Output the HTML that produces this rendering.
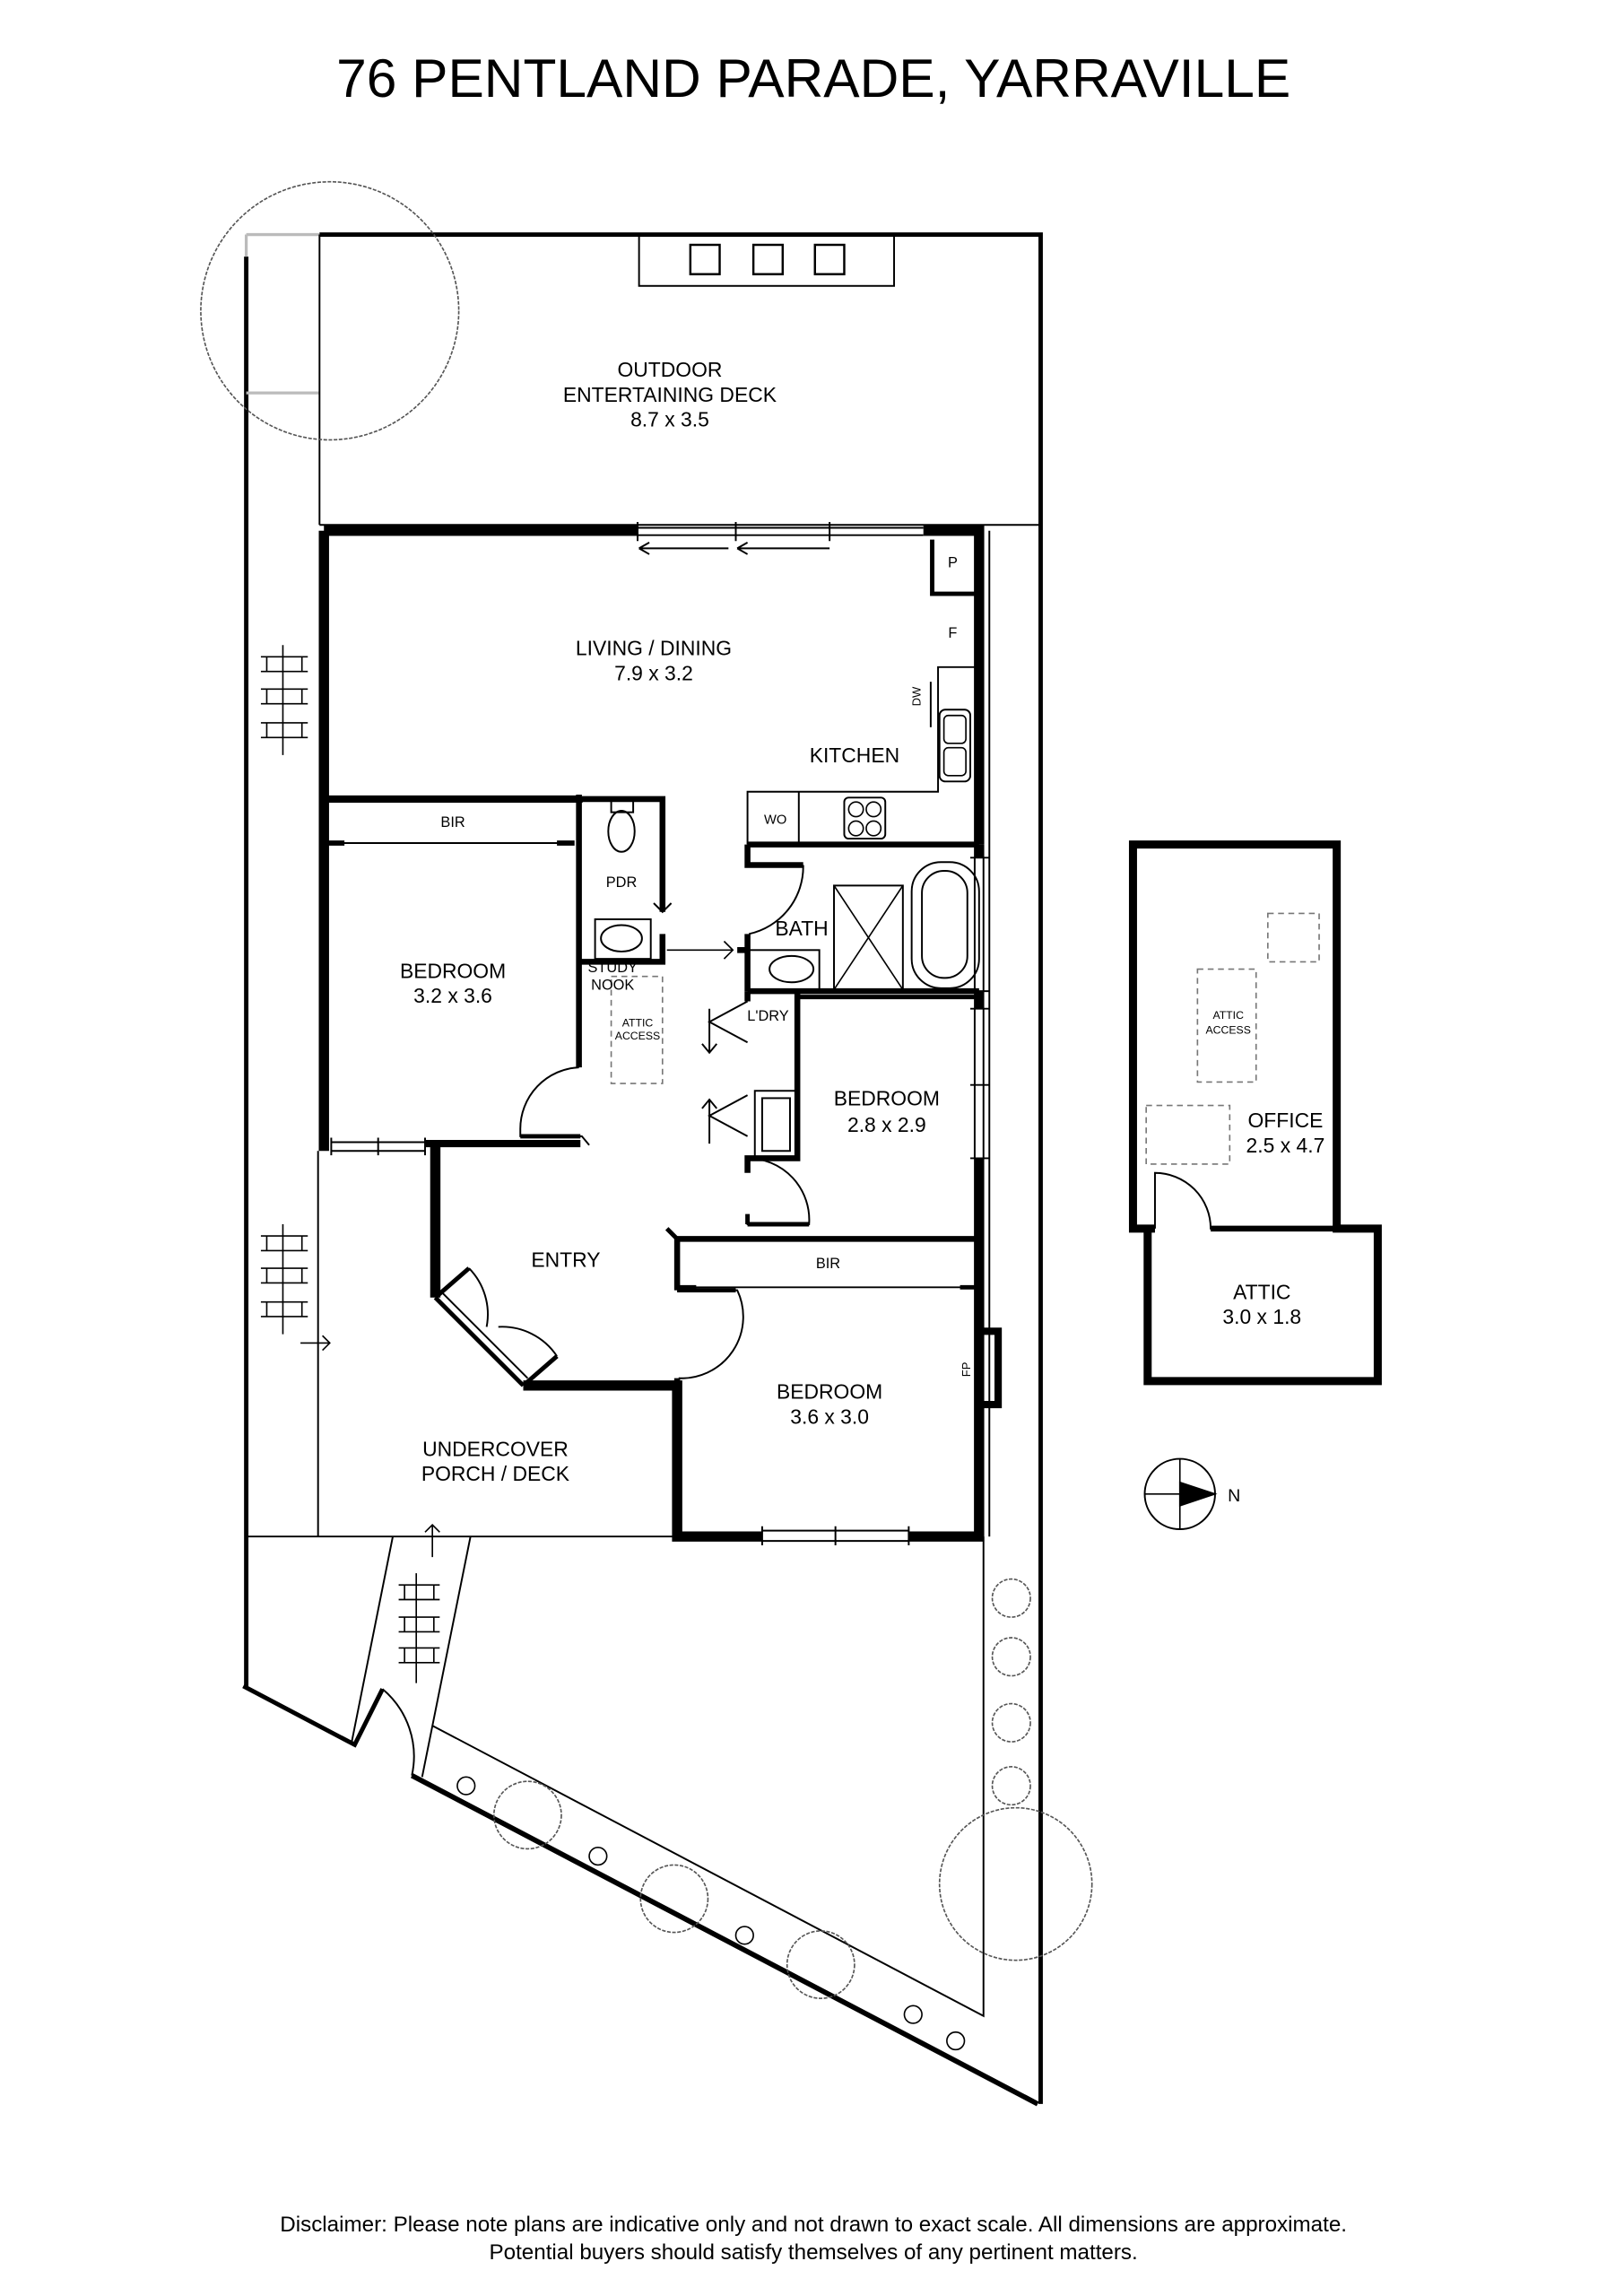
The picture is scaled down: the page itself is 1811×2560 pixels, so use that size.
<!DOCTYPE html>
<html><head><meta charset="utf-8"><style>
html,body{margin:0;padding:0;background:#fff}
svg{display:block}
text{font-family:"Liberation Sans",Arial,sans-serif;fill:#000}
</style></head><body>
<svg width="1811" height="2560" viewBox="0 0 1108 1566" preserveAspectRatio="none" xmlns="http://www.w3.org/2000/svg">
<rect width="1108" height="1566" fill="#fff"/>
<text x="555" y="66" font-size="37" text-anchor="middle">76 PENTLAND PARADE, YARRAVILLE</text>

<g fill="none" stroke="#000">
<path d="M218 160 H710 V1435" stroke-width="3"/>
<path d="M168 175 V1150" stroke-width="3"/>
<path d="M168 160 H218 M168 160 V175 M168 268 H218" stroke="#bbb" stroke-width="2"/>
<path d="M218 160 V358 M218 358 H710" stroke-width="1.2"/>
<path d="M166 1150 L242 1190 L261 1152" stroke-width="3"/>
<path d="M261 1152 A60 60 0 0 1 281 1211" stroke-width="1.2"/>
<path d="M281 1211 L708 1435" stroke-width="3.5"/>
<path d="M295 1177 L671 1375 V1048" stroke-width="1.2"/>
<path d="M268 1048 L240 1188 M321 1048 L288 1212" stroke-width="1.2"/>
<path d="M168 1048 H460" stroke-width="1.2"/>
<path d="M217 785 V1048" stroke-width="1.2"/>
<path d="M675 362 V1048" stroke-width="1.2"/>

<rect x="436" y="160" width="174" height="35" stroke-width="1.2"/>
<rect x="471" y="167" width="20" height="20" stroke-width="1.5"/>
<rect x="514" y="167" width="20" height="20" stroke-width="1.5"/>
<rect x="556" y="167" width="20" height="20" stroke-width="1.5"/>

<path d="M221 362 H435 M630 362 H668 V576" stroke-width="7"/>
<path d="M221 362 V785" stroke-width="7"/>
<path d="M668 576 V585 M668 676 V688 M668 790 V1048 H620 M520 1048 H462 V945 H357" stroke-width="7"/>
<path d="M297 782 V885" stroke-width="7"/>
<path d="M297 885 L357 945" stroke-width="3"/>
<path d="M302 882 L360 940" stroke-width="1.2"/>
<path d="M297 885 L320 865 M357 945 L380 925" stroke-width="3"/>
<path d="M320 865 A45 45 0 0 1 332 905 M380 925 A45 45 0 0 0 340 905" stroke-width="1.2"/>
<path d="M435 360 H630 M435 365 H630 M435 356 V369 M502 356 V369 M566 356 V369" stroke-width="1.2"/>
<path d="M436 374 H497 M503 374 H566 M436 374 l7 -4 M436 374 l7 4 M503 374 l7 -4 M503 374 l7 4" stroke-width="1.2"/>
<path d="M226 779 H290 M226 785 H290 M226 776 V788 M258 776 V788 M290 776 V788" stroke-width="1.2"/>
<path d="M520 1044 H620 M520 1051 H620 M520 1041 V1054 M570 1041 V1054 M620 1041 V1054" stroke-width="1.2"/>
<path d="M665 585 V676 M671 585 V676 M665 688 V790 M671 688 V790 M662 585 H675 M662 676 H675 M662 688 H675 M662 740 H675 M662 790 H675" stroke-width="1.2"/>
<path d="M668 908 H681 V958 H668" stroke-width="5"/>

<path d="M636 368 V405 H668" stroke-width="3"/>
<path d="M668 455 H640 V540 H510 V576 M545 540 V576" stroke-width="1.2"/>
<path d="M635 465 V496" stroke-width="1.2"/>
<rect x="641" y="484" width="21" height="49" rx="4" stroke-width="1.2"/>
<rect x="644" y="488" width="15" height="19" rx="3" stroke-width="1"/>
<rect x="644" y="510" width="15" height="19" rx="3" stroke-width="1"/>
<rect x="576" y="544" width="28" height="28" rx="3" stroke-width="1.2"/>
<circle cx="584" cy="552" r="5" stroke-width="1"/><circle cx="596" cy="552" r="5" stroke-width="1"/>
<circle cx="584" cy="565" r="5" stroke-width="1"/><circle cx="596" cy="565" r="5" stroke-width="1"/>
<path d="M510 576 H668" stroke-width="4"/>

<path d="M221 545 H395 V544" stroke-width="5"/>
<path d="M395 542 V728" stroke-width="4"/>
<path d="M225 575 H390" stroke-width="1.2"/>
<path d="M221 575 H235 M380 575 H392" stroke-width="3.5"/>
<path d="M395 728 A42 42 0 0 0 355 770 V775 H397 L402 781" stroke-width="1.2"/>
<path d="M355 775 H396" stroke-width="3"/>
<path d="M290 780 H396" stroke-width="5"/>
<path d="M395 545 H452 V622 M452 637 V656 H395" stroke-width="4"/>
<path d="M452 622 V566 M446 616 L452 622 L458 616" stroke-width="1.2"/>
<rect x="406" y="627" width="38" height="27" stroke-width="1.2"/>
<ellipse cx="424" cy="640" rx="14" ry="9" stroke-width="1.2"/>
<rect x="417" y="546" width="15" height="8" stroke-width="1.2"/>
<ellipse cx="424" cy="567" rx="9" ry="14" stroke-width="1.2"/>
<path d="M455 648 H500 M494 642 L500 648 L494 654" stroke-width="1"/>
<rect x="417" y="666" width="35" height="73" stroke-width="1" stroke-dasharray="4,3" stroke="#777"/>

<path d="M510 576 V590 H548 M510 637 V676 M503 648 H510 M510 676 H668" stroke-width="4"/>
<path d="M548 590 A47 47 0 0 1 511 637" stroke-width="1.2"/>
<rect x="510" y="648" width="49" height="27" stroke-width="1.2"/>
<ellipse cx="540" cy="661" rx="15" ry="9" stroke-width="1.2"/>
<rect x="569" y="604" width="47" height="71" stroke-width="1.2"/>
<path d="M569 604 L616 675 M616 604 L569 675" stroke-width="1"/>
<rect x="622" y="588" width="46" height="86" rx="20" stroke-width="1.2"/>
<rect x="629" y="594" width="31" height="73" rx="15" stroke-width="1.2"/>
<path d="M544 676 V790 H510 V800 M510 676 V683" stroke-width="4"/>
<path d="M510 683 L484 697 L510 711 M484 688 V718 M479 712 L484 718 L489 712" stroke-width="1.2"/>
<path d="M510 775 L484 761 L510 747 M484 750 V780 M479 756 L484 750 L489 756" stroke-width="1.2"/>
<rect x="515" y="744" width="28" height="45" stroke-width="1.2"/>
<rect x="520" y="749" width="19" height="36" stroke-width="1.2"/>
<path d="M510 790 A42 42 0 0 1 552 835 H510 V829" stroke-width="1.2"/>
<path d="M510 835 H552 M510 835 V828" stroke-width="3"/>
<path d="M544 680 H668" stroke-width="3"/>
<path d="M462 845 H668 M462 845 V880 M462 940 V1048" stroke-width="4"/>
<path d="M455 838 L462 845" stroke-width="3"/>
<path d="M465 878 H665" stroke-width="1.2"/>
<path d="M462 878 H475 M655 878 H667" stroke-width="3"/>
<path d="M462 880 H503 A42 42 0 0 1 463 940" stroke-width="1.2"/>
<path d="M462 880 H502" stroke-width="3"/>

<path d="M788 838 H773 V576 H912 V838 H940 V942 H783 V838" stroke-width="5.5"/>
<path d="M788 838 V800 A38 38 0 0 1 826 838 H912" stroke-width="1.2"/>
<path d="M826 838 H912" stroke-width="4"/>
<g stroke="#777" stroke-width="1" stroke-dasharray="4,3">
<rect x="865" y="623" width="35" height="33"/>
<rect x="817" y="661" width="40" height="77"/>
<rect x="782" y="754" width="57" height="40"/>
</g>
<circle cx="805" cy="1019" r="24" stroke-width="1.2"/>
<path d="M781 1019 H829 M805 995 V1043" stroke-width="1"/>
<path d="M805 1011 L829 1019 L805 1027 Z" fill="#000"/>

<g stroke-width="1">
<path d="M193 440 V515 M178 448 H210 M178 458 H210 M178 470 H210 M178 480 H210 M178 493 H210 M178 503 H210 M182 448 V458 M206 448 V458 M182 470 V480 M206 470 V480 M182 493 V503 M206 493 V503"/>
<path d="M193 835 V910 M178 843 H210 M178 853 H210 M178 865 H210 M178 875 H210 M178 888 H210 M178 898 H210 M182 843 V853 M206 843 V853 M182 865 V875 M206 865 V875 M182 888 V898 M206 888 V898"/>
<path d="M284 1073 V1148 M272 1081 H300 M272 1091 H300 M272 1103 H300 M272 1113 H300 M272 1124 H300 M272 1134 H300 M276 1081 V1091 M296 1081 V1091 M276 1103 V1113 M296 1103 V1113 M276 1124 V1134 M296 1124 V1134"/>
<path d="M205 916 H225 M220 911 L225 916 L220 921 M295 1062 V1040 M290 1045 L295 1040 L300 1045"/>
</g>
<g stroke-width="1" stroke="#555" stroke-dasharray="2.5,1">
<circle cx="225" cy="212" r="88"/>
<circle cx="693" cy="1285" r="52"/>
<circle cx="360" cy="1238" r="23"/>
<circle cx="460" cy="1295" r="23"/>
<circle cx="560" cy="1340" r="23"/>
<circle cx="690" cy="1090" r="13"/><circle cx="690" cy="1130" r="13"/>
<circle cx="690" cy="1175" r="13"/><circle cx="690" cy="1218" r="13"/>
</g>
<g stroke-width="1">
<circle cx="318" cy="1218" r="6"/><circle cx="408" cy="1266" r="6"/>
<circle cx="508" cy="1320" r="6"/><circle cx="623" cy="1374" r="6"/>
<circle cx="652" cy="1392" r="6"/>
</g>
</g>

<g font-size="14" text-anchor="middle">
<text x="457" y="257">OUTDOOR</text>
<text x="457" y="274">ENTERTAINING DECK</text>
<text x="457" y="291">8.7 x 3.5</text>
<text x="446" y="447">LIVING / DINING</text>
<text x="446" y="464">7.9 x 3.2</text>
<text x="583" y="520">KITCHEN</text>
<text x="309" y="667">BEDROOM</text>
<text x="309" y="684">3.2 x 3.6</text>
<text x="547" y="638">BATH</text>
<text x="605" y="754">BEDROOM</text>
<text x="605" y="772">2.8 x 2.9</text>
<text x="386" y="864">ENTRY</text>
<text x="566" y="954">BEDROOM</text>
<text x="566" y="971">3.6 x 3.0</text>
<text x="338" y="993">UNDERCOVER</text>
<text x="338" y="1010">PORCH / DECK</text>
<text x="877" y="769">OFFICE</text>
<text x="877" y="786">2.5 x 4.7</text>
<text x="861" y="886">ATTIC</text>
<text x="861" y="903">3.0 x 1.8</text>
<text x="842" y="1024" font-size="12">N</text>
</g>
<g font-size="10" text-anchor="middle">
<text x="650" y="387">P</text>
<text x="650" y="435">F</text>
<text x="529" y="562" font-size="9">WO</text>
<text x="309" y="564">BIR</text>
<text x="424" y="605">PDR</text>
<text x="418" y="663">STUDY</text>
<text x="418" y="675">NOOK</text>
<text x="524" y="696">L'DRY</text>
<text x="565" y="865">BIR</text>
<text x="435" y="700" font-size="7.5">ATTIC</text>
<text x="435" y="709" font-size="7.5">ACCESS</text>
<text x="838" y="695" font-size="7.5">ATTIC</text>
<text x="838" y="705" font-size="7.5">ACCESS</text>
<text x="0" y="0" font-size="8" transform="translate(628,475) rotate(-90)">DW</text>
<text x="0" y="0" font-size="8" transform="translate(662,934) rotate(-90)">FP</text>
</g>
<g font-size="14.8" text-anchor="middle">
<text x="555" y="1522">Disclaimer: Please note plans are indicative only and not drawn to exact scale. All dimensions are approximate.</text>
<text x="555" y="1541">Potential buyers should satisfy themselves of any pertinent matters.</text>
</g>
</svg>
</body></html>
